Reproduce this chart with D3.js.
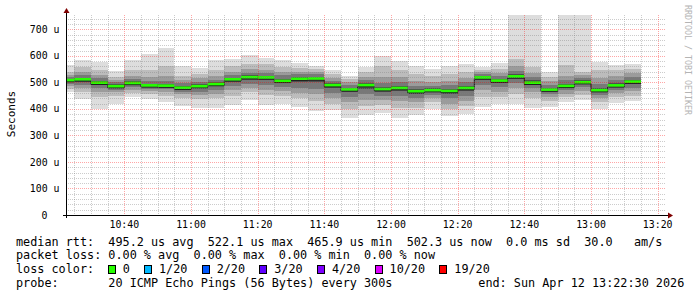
<!DOCTYPE html>
<html>
<head>
<meta charset="utf-8">
<script src="https://cdn.jsdelivr.net/npm/d3@7"></script>
<style>
  body { margin: 0; background: #fff; }
  text { font-family: "DejaVu Sans Mono", monospace; fill: #000; white-space: pre; }
</style>
</head>
<body>
<div id="chart"></div>
<script>
// end time of each 5 minute step
const barEnds = ['10:25', '10:30', '10:35', '10:40', '10:45', '10:50', '10:55', '11:00', '11:05', '11:10',
  '11:15', '11:20', '11:25', '11:30', '11:35', '11:40', '11:45', '11:50', '11:55', '12:00',
  '12:05', '12:10', '12:15', '12:20', '12:25', '12:30', '12:35', '12:40', '12:45', '12:50',
  '12:55', '13:00', '13:05', '13:10', '13:15'];

// median rtt in microseconds
const medians = [508, 511, 498, 485, 497, 488, 487, 479, 485, 493,
  511, 519, 518, 505, 513, 514, 489, 473, 489, 474,
  478, 466, 470, 467, 478, 518, 506, 522, 498, 472,
  486, 500, 470, 488, 502];

// sorted pings per step: [p1, p3, p5, p7, p9, p12, p14, p16, p18, p20] (us)
const smoke = [
  [462, 475, 487, 495, 503, 514, 520, 528, 540, 565],
  [439, 462, 478, 490, 503, 518, 528, 540, 558, 583],
  [398, 445, 465, 478, 490, 505, 515, 528, 545, 577],
  [417, 450, 462, 472, 480, 492, 500, 510, 522, 542],
  [443, 460, 472, 482, 491, 504, 512, 525, 545, 583],
  [439, 455, 466, 475, 484, 495, 506, 520, 548, 608],
  [427, 450, 463, 474, 482, 494, 506, 525, 560, 630],
  [410, 440, 455, 465, 474, 486, 496, 508, 525, 561],
  [405, 438, 452, 465, 478, 492, 502, 515, 530, 556],
  [405, 440, 456, 470, 485, 500, 510, 525, 548, 583],
  [414, 450, 470, 485, 500, 518, 528, 540, 560, 587],
  [435, 465, 480, 495, 510, 526, 536, 550, 570, 602],
  [414, 452, 472, 490, 508, 525, 535, 548, 568, 592],
  [418, 450, 468, 482, 496, 514, 526, 540, 558, 583],
  [408, 440, 460, 480, 500, 520, 530, 540, 556, 573],
  [393, 430, 455, 475, 500, 520, 530, 540, 552, 563],
  [395, 420, 440, 460, 478, 496, 506, 518, 532, 546],
  [366, 400, 425, 445, 462, 480, 490, 500, 512, 523],
  [376, 410, 435, 455, 475, 496, 508, 520, 540, 558],
  [385, 415, 435, 450, 465, 484, 498, 520, 560, 598],
  [366, 405, 430, 450, 468, 488, 502, 520, 548, 580],
  [376, 405, 425, 442, 456, 474, 488, 505, 530, 561],
  [401, 425, 440, 452, 463, 478, 488, 502, 525, 552],
  [374, 400, 420, 440, 456, 476, 490, 506, 530, 561],
  [380, 410, 430, 450, 468, 488, 500, 516, 540, 568],
  [408, 445, 470, 490, 508, 525, 532, 540, 548, 558],
  [417, 445, 465, 482, 498, 514, 524, 536, 552, 573],
  [418, 455, 480, 498, 512, 530, 542, 560, 590, 760],
  [404, 440, 462, 478, 490, 508, 520, 535, 558, 760],
  [408, 430, 445, 458, 466, 480, 490, 505, 520, 539],
  [427, 445, 458, 470, 480, 495, 508, 525, 565, 760],
  [433, 452, 468, 482, 493, 508, 518, 528, 540, 760],
  [398, 425, 440, 452, 463, 480, 495, 515, 545, 577],
  [423, 445, 460, 472, 482, 498, 510, 525, 545, 567],
  [430, 450, 466, 480, 494, 510, 522, 536, 552, 570]
];

const yTicks = [0, 100, 200, 300, 400, 500, 600, 700];
const yTickLabels = ['0', '100 u', '200 u', '300 u', '400 u', '500 u', '600 u', '700 u'];

const lossLabels = ['0', '1/20', '2/20', '3/20', '4/20', '10/20', '19/20'];
const lossColors = ['#26ff00', '#00b8ff', '#0059ff', '#5e00ff', '#7e00ff', '#dd00ff', '#ff0000'];

const legendLines = [
  'median rtt:  495.2 us avg  522.1 us max  465.9 us min  502.3 us now  0.0 ms sd  30.0   am/s',
  'packet loss: 0.00 % avg  0.00 % max  0.00 % min  0.00 % now',
  'loss color:',
  'probe:       20 ICMP Echo Pings (56 Bytes) every 300s'
];
const endLabel = 'end: Sun Apr 12 13:22:30 2026';

const W = 697, H = 297;
const plot = { left: 66, right: 666, top: 15, bottom: 215 };
const smokeGrays = ['#dddddd', '#bcbcbc', '#9b9b9b', '#787878', '#4e4e4e'];
const cw = 7.115; // legend character advance

const t = (hm) => {
  const [h, m] = hm.split(':').map(Number);
  return new Date(Date.UTC(2026, 3, 12, h, m, 0));
};

const x = d3.scaleUtc()
  .domain([new Date(Date.UTC(2026, 3, 12, 10, 22, 30)), new Date(Date.UTC(2026, 3, 12, 13, 22, 30))])
  .range([plot.left, plot.right]);
const y = d3.scaleLinear().domain([0, 754]).range([plot.bottom, plot.top]);

const svg = d3.select('#chart').append('svg')
  .attr('width', W).attr('height', H)
  .attr('viewBox', `0 0 ${W} ${H}`);

svg.append('rect').attr('width', W).attr('height', H).attr('fill', '#fff');

svg.append('defs').append('clipPath').attr('id', 'plotclip')
  .append('rect')
  .attr('x', plot.left).attr('y', plot.top)
  .attr('width', plot.right - plot.left).attr('height', plot.bottom - plot.top);

const data = barEnds.map((e, i) => {
  const end = t(e);
  return { start: d3.utcMinute.offset(end, -5), end, med: medians[i], pings: smoke[i] };
});

const g = svg.append('g').attr('clip-path', 'url(#plotclip)');

// smoke: outer pair first, inner pairs stacked on top
for (let k = 0; k < 5; k++) {
  g.append('g').selectAll('rect')
    .data(data)
    .join('rect')
    .attr('x', (d) => x(d.start))
    .attr('width', (d) => x(d.end) - x(d.start))
    .attr('y', (d) => y(d.pings[9 - k]))
    .attr('height', (d) => y(d.pings[k]) - y(d.pings[9 - k]))
    .attr('fill', smokeGrays[k])
    .attr('shape-rendering', 'crispEdges');
}

// median as step line
const stepPts = [];
data.forEach((d) => {
  stepPts.push([x(d.start), y(d.med)]);
  stepPts.push([x(d.end), y(d.med)]);
});
g.append('path')
  .attr('d', d3.line()(stepPts.map(([px, py]) => [px, py + 1.5])))
  .attr('fill', 'none')
  .attr('stroke', '#1a1a1a')
  .attr('stroke-width', 1);

g.append('g').selectAll('rect')
  .data(data)
  .join('rect')
  .attr('x', (d) => x(d.start))
  .attr('width', (d) => x(d.end) - x(d.start))
  .attr('y', (d) => y(d.med) - 1.5)
  .attr('height', 2.6)
  .attr('fill', lossColors[0]);

// grid
const grid = svg.append('g').attr('shape-rendering', 'crispEdges');
const minorY = d3.range(20, 754, 20).filter((v) => v % 100 !== 0);
grid.selectAll('.hmin').data(minorY).join('line')
  .attr('x1', plot.left).attr('x2', plot.right)
  .attr('y1', (v) => Math.round(y(v)) + 0.5).attr('y2', (v) => Math.round(y(v)) + 0.5)
  .attr('stroke', 'rgba(128,128,128,0.4)').attr('stroke-dasharray', '1,1');
grid.selectAll('.hmaj').data(yTicks.slice(1)).join('line')
  .attr('x1', plot.left).attr('x2', plot.right)
  .attr('y1', (v) => Math.round(y(v)) + 0.5).attr('y2', (v) => Math.round(y(v)) + 0.5)
  .attr('stroke', 'rgba(255,0,0,0.35)').attr('stroke-dasharray', '1,1');

const minorX = x.ticks(d3.utcMinute.every(5)).filter((d) => d.getUTCMinutes() % 20 !== 0);
const majorX = x.ticks(d3.utcMinute.every(20));
grid.selectAll('.vmin').data(minorX).join('line')
  .attr('x1', (d) => Math.round(x(d)) + 0.5).attr('x2', (d) => Math.round(x(d)) + 0.5)
  .attr('y1', plot.top).attr('y2', plot.bottom)
  .attr('stroke', 'rgba(128,128,128,0.4)').attr('stroke-dasharray', '1,1');
grid.selectAll('.vmaj').data(majorX).join('line')
  .attr('x1', (d) => Math.round(x(d)) + 0.5).attr('x2', (d) => Math.round(x(d)) + 0.5)
  .attr('y1', plot.top).attr('y2', plot.bottom)
  .attr('stroke', 'rgba(255,0,0,0.35)').attr('stroke-dasharray', '1,1');

// axes
const ax = svg.append('g').attr('shape-rendering', 'crispEdges');
ax.append('line').attr('x1', plot.left - 3).attr('x2', plot.right + 4)
  .attr('y1', plot.bottom + 0.5).attr('y2', plot.bottom + 0.5).attr('stroke', '#000');
ax.append('line').attr('x1', plot.left + 0.5).attr('x2', plot.left + 0.5)
  .attr('y1', plot.bottom + 3).attr('y2', plot.top - 4).attr('stroke', '#000');
svg.append('path')
  .attr('d', `M${plot.left + 0.5},${plot.top - 7} l-3,5 h6 z`)
  .attr('fill', '#7f0000');
svg.append('path')
  .attr('d', `M${plot.right + 7},${plot.bottom + 0.5} l-5,-3 v6 z`)
  .attr('fill', '#7f0000');

// tick labels
const timeFmt = d3.utcFormat('%H:%M');
svg.append('g').selectAll('text').data(majorX).join('text')
  .attr('x', (d) => x(d)).attr('y', 228.3)
  .attr('text-anchor', 'middle')
  .attr('font-size', '9.9px')
  .attr('fill', '#111')
  .text((d) => timeFmt(d));

svg.append('g').selectAll('text').data(yTicks).join('text')
  .attr('x', (v) => (v === 0 ? 47.5 : 59.5))
  .attr('y', (v) => y(v) + 3.6)
  .attr('text-anchor', 'end')
  .attr('font-size', '9.9px')
  .attr('fill', '#111')
  .text((v, i) => yTickLabels[i]);

svg.append('text')
  .attr('transform', 'translate(14.5,114) rotate(-90)')
  .attr('text-anchor', 'middle')
  .attr('font-size', '11px')
  .text('Seconds');

svg.append('text')
  .attr('transform', 'translate(684.5,5) rotate(90)')
  .attr('font-size', '8.3px')
  .style('fill', '#b4b4b4')
  .text('RRDTOOL / TOBI OETIKER');

// legend
const legendY = [245.6, 259.4, 273.1, 286.9];
const leg = svg.append('g').attr('font-size', '11.8px');
legendLines.forEach((s, i) => {
  leg.append('text').attr('x', 16).attr('y', legendY[i]).text(s);
});
leg.append('text').attr('x', 478.3).attr('y', legendY[3]).text(endLabel);

let tx = 16 + 15 * cw;
lossLabels.forEach((lab, i) => {
  leg.append('rect')
    .attr('x', tx - 14.5).attr('y', 265.2)
    .attr('width', 7).attr('height', 8)
    .attr('fill', lossColors[i])
    .attr('stroke', '#000').attr('stroke-width', 1)
    .attr('shape-rendering', 'crispEdges');
  leg.append('text').attr('x', tx).attr('y', legendY[2]).text(lab);
  tx += (lab.length + 4.1) * cw;
});
</script>
</body>
</html>
